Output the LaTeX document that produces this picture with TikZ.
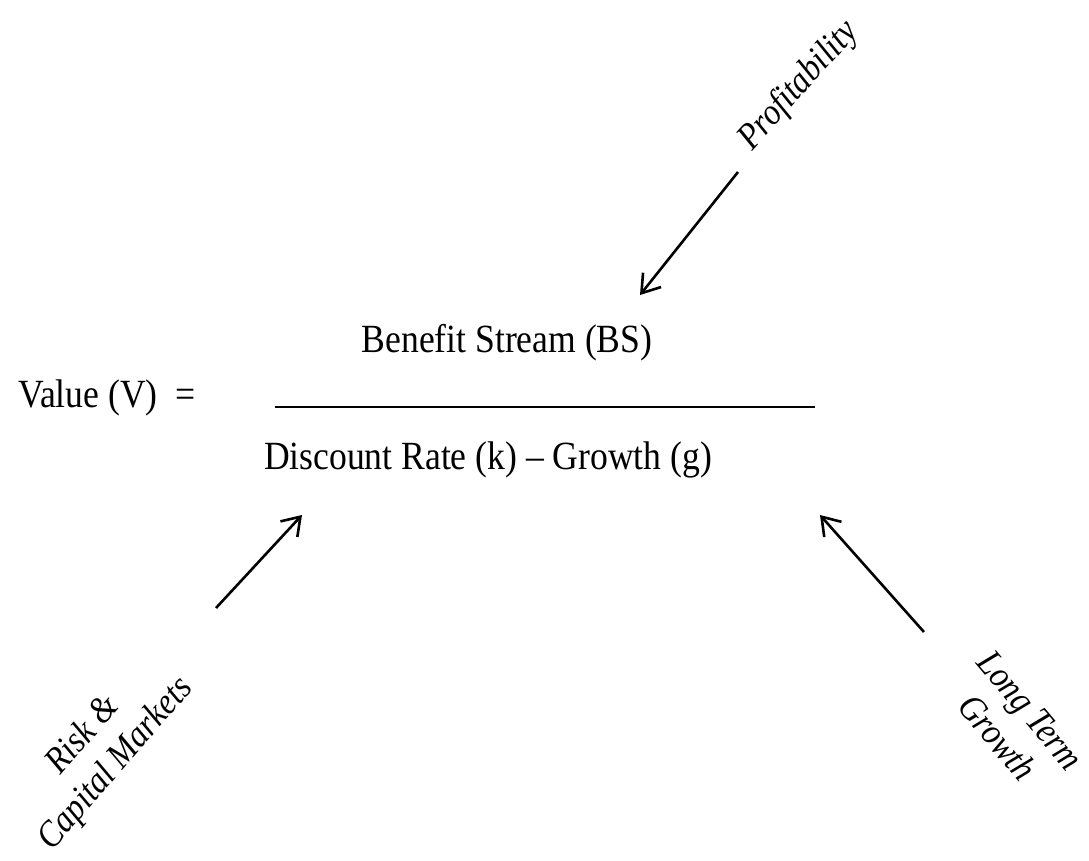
\documentclass[tikz,border=0pt]{standalone}
\usepackage{fontspec}
\setmainfont{Liberation Serif}[FakeStretch=0.89]
\usetikzlibrary{arrows.meta}
\begin{document}
\begin{tikzpicture}[x=1pt,y=-1pt,
  eqtext/.style={inner sep=0pt,anchor=center,font=\fontsize{40}{44}\selectfont},
  lbl/.style={inner sep=0pt,anchor=center,align=center,font=\fontsize{37}{43}\selectfont\itshape},
  infl/.style={line width=2.6pt,-{Straight Barb[length=17pt,width=23pt,line width=2.6pt]}},
  barline/.style={line width=2.8pt}]
\useasboundingbox (0,0) rectangle (1089,861);
\node[eqtext] (bs) at (507,343) {Benefit Stream (BS)};
\node[eqtext] (val) at (107,398) {Value (V)\ \ =};
\node[eqtext] (dr) at (488,460) {Discount Rate (k) -- Growth (g)};
\coordinate (barL) at (275,407);
\coordinate (barR) at (815,407);
\draw[barline] (barL) -- (barR);
\node[lbl,rotate=48] (prof) at (799,86) {Profitability};
\node[lbl,rotate=49] (risk) at (100,750) {Risk \&\\Capital Markets};
\node[lbl,rotate=-50] (ltg) at (1014,724) {Long Term\\Growth};
\coordinate (p1) at (738,172);
\coordinate (p2) at (640,295);
\coordinate (r1) at (216,608);
\coordinate (r2) at (302,515);
\coordinate (l1) at (924,632);
\coordinate (l2) at (820,515);
\draw[infl] (p1) -- (p2);
\draw[infl] (r1) -- (r2);
\draw[infl] (l1) -- (l2);
\end{tikzpicture}
\end{document}
